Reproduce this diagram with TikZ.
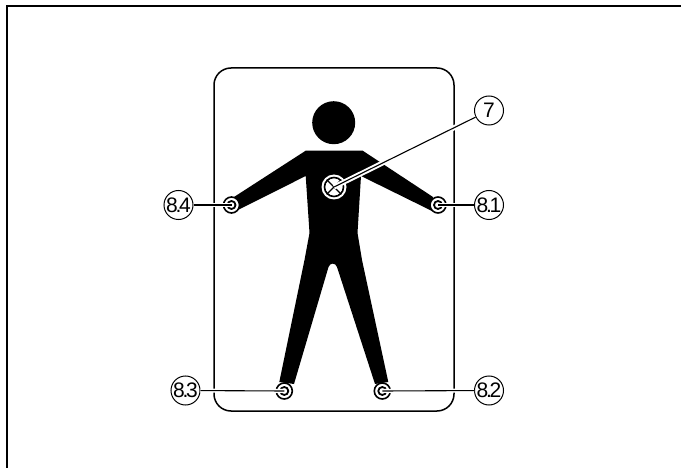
\documentclass[tikz,border=0pt]{standalone}
\usepackage{fontspec}
\setmainfont{Liberation Sans}
\newcommand{\dt}{\kern-2.2pt.\kern-2.2pt}
\tikzset{
  bubble/.style={circle,draw=black,fill=white,line width=1pt,minimum size=29pt,inner sep=0pt,font=\fontsize{21}{21}\selectfont},
  joint/.style={circle,draw=black,fill=white,line width=1.6pt,minimum size=16pt,inner sep=0pt,outer sep=0pt},
  jointcore/.style={circle,draw=black,fill=white,line width=1.8pt,minimum size=8pt,inner sep=0pt,outer sep=0pt},
  halo/.style={white,line width=4pt},
  leader/.style={black,line width=1.1pt},
  frameline/.style={black,line width=2pt},
  figure/.style={fill=black,draw=none}
}
\begin{document}
\begin{tikzpicture}[x=1pt,y=-1pt]
\useasboundingbox (0,0) rectangle (681,468);
\fill[white] (0,0) rectangle (681,468);
\coordinate (fa) at (7,468);
\coordinate (fb) at (7,6);
\coordinate (fc) at (681,6);
\draw[frameline] (fa) -- (fb) -- (fc);
\draw[black,line width=1.5pt,rounded corners=17pt] (214,68) rectangle (454,411);
% figure
\fill[figure] (333.7,122.7) circle (21.5);
\fill[figure] (305.7,150.7) -- (362.7,150.7) -- (433,197) -- (432,211) -- (361,176)
  -- (357.5,233) -- (362,260) -- (388.3,382) -- (375,384) -- (337,267)
  .. controls (335.5,262.5) and (330,262.5) .. (328.5,267)
  -- (294,384) -- (279.3,382) -- (304.5,260) -- (309.5,233) -- (305.7,176)
  -- (236,211) -- (234,197) -- cycle;
\node[joint] (j1) at (438,205) {};
\node[joint] (j4) at (231.5,205) {};
\node[joint] (j3) at (284.3,391) {};
\node[joint] (j2) at (382.3,391) {};
\node[jointcore] (k1) at (438,205) {};
\node[jointcore] (k4) at (231.5,205) {};
\node[jointcore] (k3) at (284.3,391) {};
\node[jointcore] (k2) at (382.3,391) {};
% central symbol
\node[circle,fill=white,minimum size=25pt,inner sep=0pt] (c7o) at (334,187) {};
\node[circle,draw=black,fill=white,line width=1.6pt,minimum size=19pt,inner sep=0pt] (c7) at (334,187) {};
\draw[black,line width=1.2pt] (c7.45) -- (c7.225);
\draw[black,line width=1.2pt] (c7.135) -- (c7.315);
% bubbles
\node[bubble] (b7) at (489,110.5) {7};
\node[bubble] (b1) at (489,205) {8\dt1};
\node[bubble] (b2) at (489,390.5) {8\dt2};
\node[bubble] (b3) at (185.5,390.5) {8\dt3};
\node[bubble] (b4) at (178.5,205) {8\dt4};
% leaders
\draw[white,line width=5pt] (b7) -- (c7.center);
\draw[halo] (b1) -- (k1.center);
\draw[halo] (b4) -- (k4.center);
\draw[halo] (b2) -- (k2.center);
\draw[halo] (b3) -- (k3.center);
\draw[leader] (b7) -- (c7.center);
\draw[leader] (b1) -- (k1.center);
\draw[leader] (b4) -- (k4.center);
\draw[leader] (b2) -- (k2.center);
\draw[leader] (b3) -- (k3.center);
\end{tikzpicture}
\end{document}
